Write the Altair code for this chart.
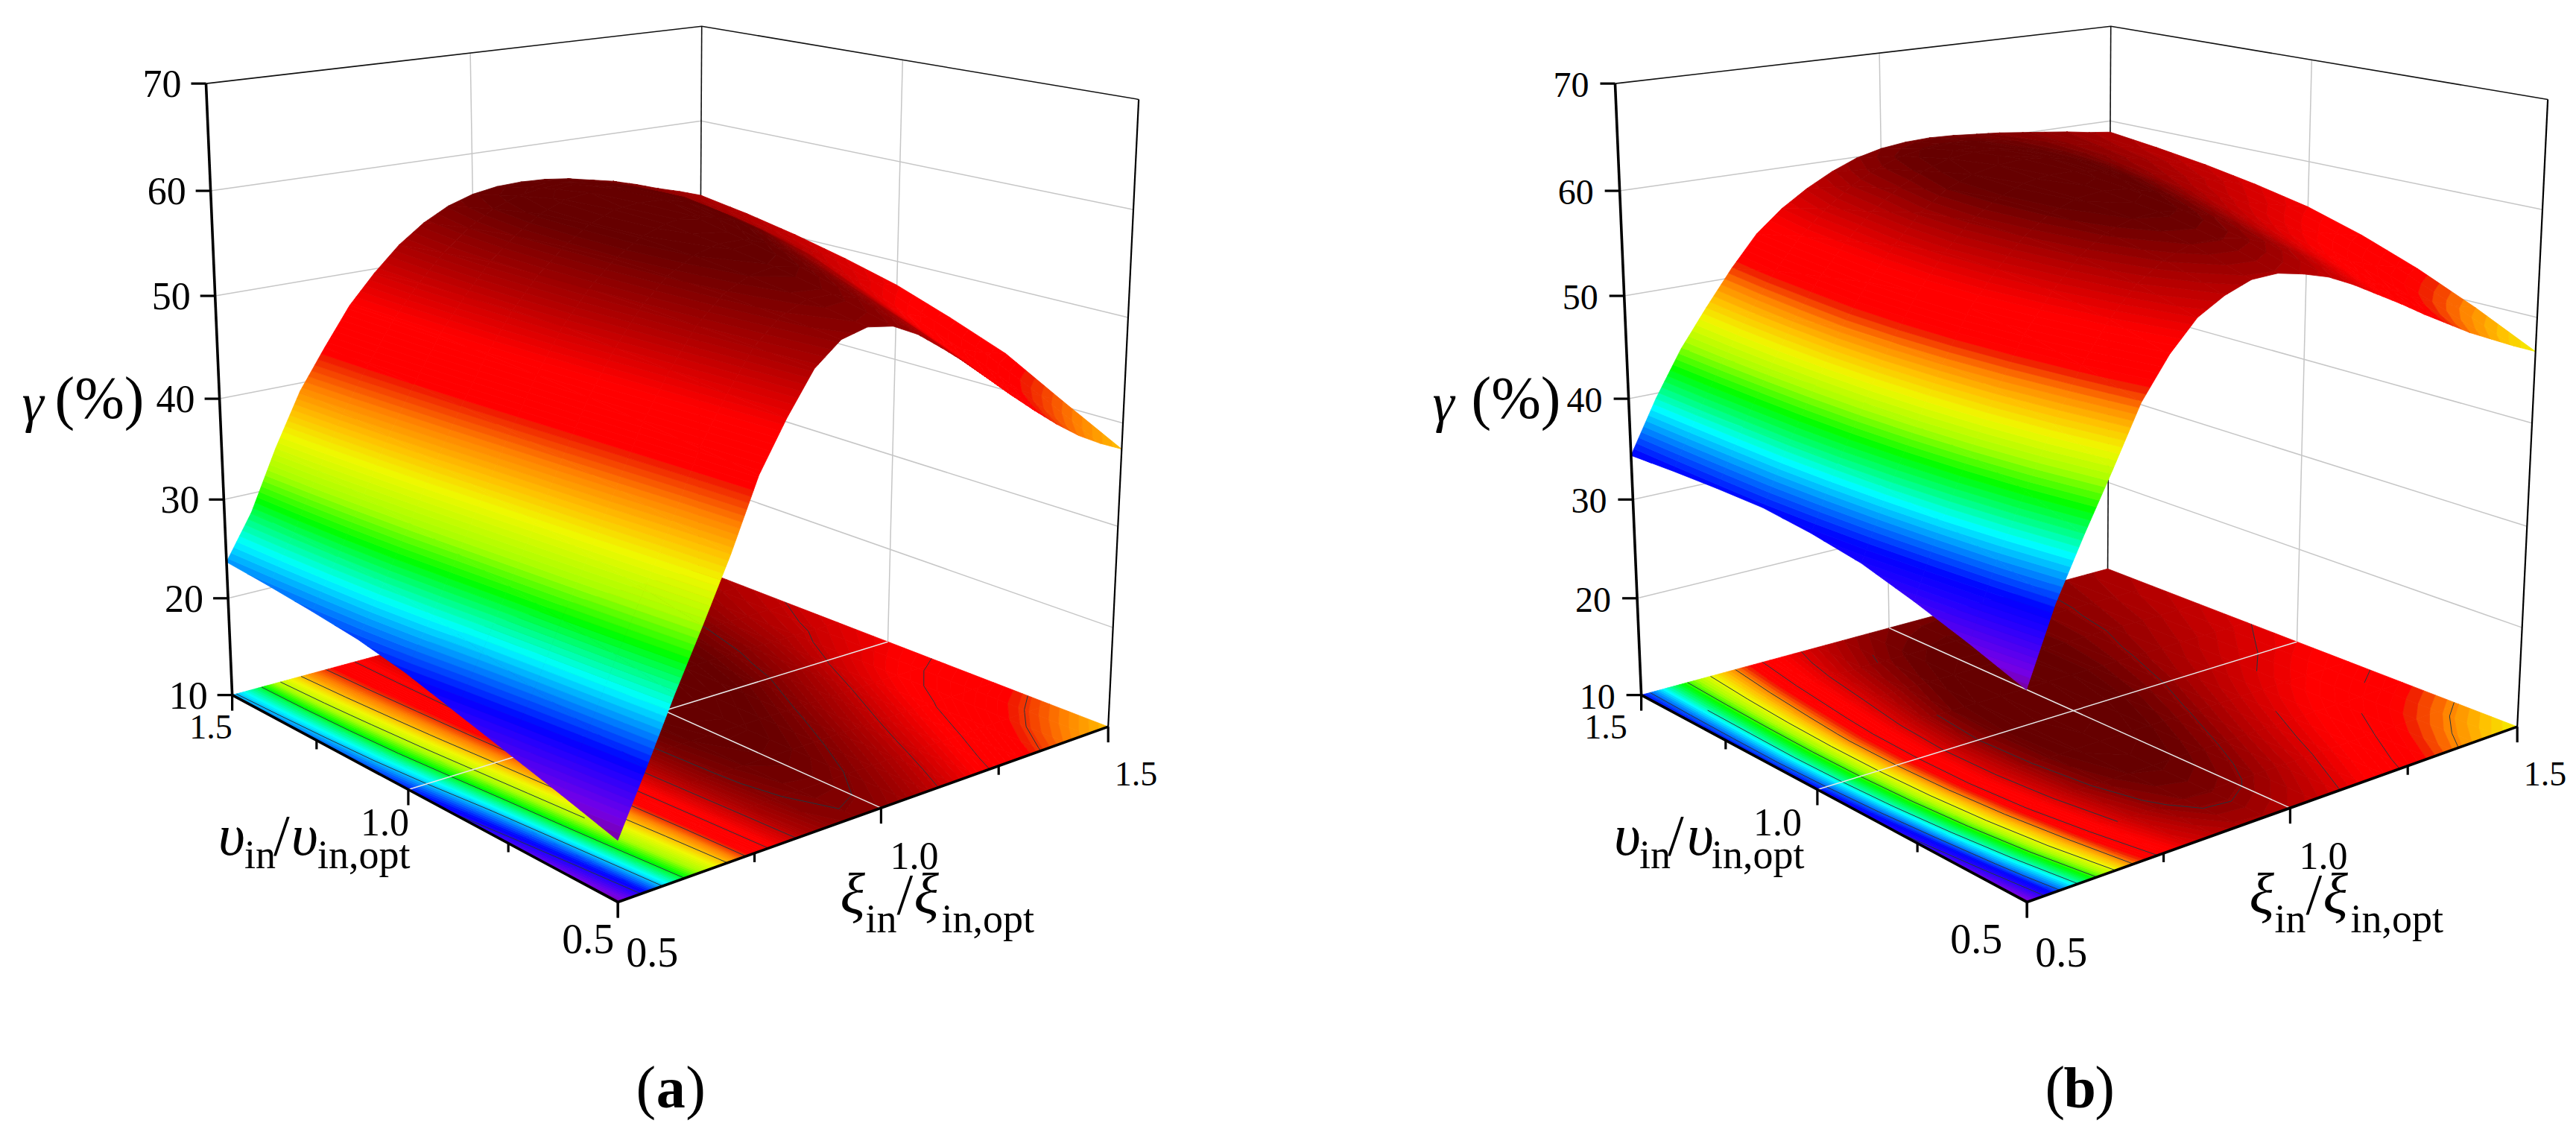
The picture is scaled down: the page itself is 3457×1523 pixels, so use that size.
import numpy as np
import pandas as pd
import altair as alt

alt.data_transformers.disable_max_rows()

# ---------- values ----------
XI = [0.5, 0.55, 0.6, 0.65, 0.7, 0.75, 0.8, 0.85, 0.9, 0.95, 1.0, 1.05, 1.1, 1.15, 1.2, 1.25, 1.3, 1.35, 1.4, 1.45, 1.5]
V = [0.5, 0.625, 0.75, 0.875, 1.0, 1.125, 1.25, 1.375, 1.5]
GAMMA_A = [
    [15.5, 21.0, 26.7, 32.0, 37.5, 43.7, 48.0, 51.7, 53.7, 54.3, 53.9, 52.7, 51.0, 49.2, 47.2, 45.2, 43.3, 41.5, 39.9, 38.6, 37.5],
    [17.0, 22.2, 27.9, 33.1, 38.5, 44.3, 48.5, 52.1, 54.3, 55.3, 55.3, 54.5, 53.1, 51.4, 49.5, 47.6, 45.8, 44.0, 42.6, 41.5, 40.5],
    [18.4, 23.4, 29.0, 34.2, 39.6, 44.9, 49.0, 52.5, 54.8, 56.0, 56.4, 56.0, 54.9, 53.4, 51.6, 49.8, 48.0, 46.3, 45.0, 44.2, 43.6],
    [19.8, 24.6, 30.0, 35.2, 40.5, 45.5, 49.5, 52.8, 55.1, 56.5, 57.2, 57.2, 56.4, 55.2, 53.6, 52.0, 50.2, 48.4, 47.0, 46.2, 45.7],
    [21.2, 25.9, 31.0, 36.2, 41.3, 46.0, 50.0, 53.0, 55.3, 56.9, 57.8, 58.2, 57.6, 56.8, 55.5, 53.9, 52.4, 50.5, 49.2, 48.3, 47.6],
    [22.2, 26.9, 32.0, 37.2, 42.0, 46.4, 50.1, 53.0, 55.2, 56.9, 57.9, 58.2, 58.1, 57.5, 56.5, 55.2, 53.8, 52.3, 50.9, 49.9, 49.0],
    [22.8, 27.5, 32.8, 38.0, 42.5, 46.7, 50.0, 52.9, 55.0, 56.7, 57.7, 58.0, 58.0, 57.6, 56.9, 56.0, 54.7, 53.2, 52.0, 51.0, 50.2],
    [23.3, 27.9, 33.5, 38.7, 42.9, 46.8, 49.9, 52.5, 54.5, 56.0, 56.9, 57.3, 57.4, 57.1, 56.6, 55.9, 55.0, 54.0, 53.0, 52.0, 51.2],
    [23.7, 28.1, 34.0, 39.2, 43.1, 46.8, 49.6, 52.0, 53.8, 55.1, 55.9, 56.3, 56.4, 56.3, 56.0, 55.5, 55.0, 54.3, 53.5, 52.8, 52.0],
]
GAMMA_B = [
    [28.6, 35.2, 40.4, 45.3, 50.4, 53.9, 56.5, 57.9, 58.8, 58.9, 58.4, 57.7, 56.6, 55.3, 54.0, 52.6, 51.3, 50.0, 48.9, 47.8, 46.8],
    [30.4, 37.0, 42.3, 47.4, 52.0, 55.4, 58.0, 59.6, 60.5, 60.6, 60.2, 59.4, 58.3, 57.0, 55.7, 54.4, 53.2, 52.0, 51.0, 50.2, 49.5],
    [32.0, 38.4, 43.7, 48.8, 53.2, 56.4, 59.0, 60.7, 61.5, 61.7, 61.4, 60.6, 59.6, 58.4, 57.2, 56.0, 54.9, 53.9, 53.1, 52.5, 51.9],
    [33.4, 39.4, 44.6, 49.6, 54.0, 57.0, 59.5, 61.2, 62.1, 62.4, 62.2, 61.6, 60.7, 59.7, 58.6, 57.5, 56.5, 55.7, 55.0, 54.4, 53.9],
    [34.2, 40.0, 45.0, 50.0, 54.0, 57.2, 59.7, 61.3, 62.3, 62.7, 62.7, 62.3, 61.6, 60.7, 59.8, 58.8, 58.0, 57.2, 56.6, 56.0, 55.5],
    [34.7, 40.2, 45.0, 49.9, 53.6, 56.6, 59.2, 61.0, 62.0, 62.5, 62.7, 62.5, 62.0, 61.3, 60.5, 59.7, 59.0, 58.4, 57.8, 57.2, 56.6],
    [34.7, 40.0, 44.8, 49.2, 52.8, 55.7, 58.1, 59.9, 61.2, 62.0, 62.3, 62.2, 61.9, 61.4, 60.9, 60.3, 59.7, 59.2, 58.6, 58.0, 57.5],
    [34.6, 39.8, 44.4, 48.4, 52.0, 54.9, 57.2, 59.0, 60.3, 61.2, 61.6, 61.7, 61.6, 61.3, 60.9, 60.5, 60.0, 59.6, 59.1, 58.6, 58.2],
    [34.4, 39.5, 43.9, 47.5, 50.9, 53.9, 56.0, 57.6, 58.9, 59.9, 60.5, 60.8, 60.9, 60.8, 60.6, 60.4, 60.1, 59.8, 59.5, 59.1, 58.8],
]
COLORS = ["#7a00a4", "#7400e8", "#2000ff", "#0000ff", "#0078ff", "#00ffff", "#00ff80", "#00ff00",
          "#a8ff00", "#f0f800", "#ffc000", "#ff8000", "#f02000", "#ff0000", "#ff0000", "#b00000", "#660000"]
STOPS_A = [15.5, 17, 20, 21, 23.2, 25.6, 27.5, 29.3, 32, 35.3, 37.4, 39.8, 42.2, 42.7, 47, 51.5, 56.5]
STOPS_B = [28.6, 29.8, 33, 34.6, 36.6, 38.8, 40.4, 42.2, 44.5, 46.6, 48.3, 49.9, 51.3, 51.8, 55, 58.5, 61.5]
CONTOURS_A = [20, 24.4, 28.8, 33.1, 37.4, 41.7, 46, 50.3, 54.6]
CONTOURS_B = [32.7, 36.1, 39.5, 42.9, 46.3, 49.7, 53.1, 56.5, 59.9]
Z_TICKS = [10, 20, 30, 40, 50, 60, 70]
MAJOR = [0.5, 1.0, 1.5]
MINOR = [0.75, 1.25]

# camera calibration: axis-box locations (xi, v, gamma) -> page location
CAL = [
    (0.5, 1.5, 10, 311.6, 932), (0.5, 1.5, 70, 277, 112.5), (0.5, 0.5, 10, 830, 1211),
    (1.5, 0.5, 10, 1487.5, 974), (1.5, 0.5, 70, 1528.6, 133), (1.5, 1.5, 70, 941.5, 35),
    (1.5, 1.5, 10, 938, 764), (0.5, 1.5, 40, 294, 535), (1.5, 0.5, 40, 1506, 568),
    (1.0, 0.5, 10, 1182, 1085), (0.5, 1.0, 10, 547.6, 1059), (1.0, 1.5, 70, 631, 71),
    (1.5, 1.0, 70, 1211.6, 80.7),
]
A, b = [], []
for X_, Y_, Z_, u, w in CAL:
    A.append([X_, Y_, Z_, 1, 0, 0, 0, 0, -u * X_, -u * Y_, -u * Z_]); b.append(u)
    A.append([0, 0, 0, 0, X_, Y_, Z_, 1, -w * X_, -w * Y_, -w * Z_]); b.append(w)
P = np.append(np.linalg.lstsq(np.array(A, float), np.array(b, float), rcond=None)[0], 1).reshape(3, 4)


def project(xi, v, z):
    h = P @ np.array([xi, v, z, 1.0])
    return h[0] / h[2], h[1] / h[2]


def hexmix(c1, c2, t):
    a = [int(c1[i:i + 2], 16) for i in (1, 3, 5)]
    d = [int(c2[i:i + 2], 16) for i in (1, 3, 5)]
    return "#%02x%02x%02x" % tuple(int(round(a[i] + (d[i] - a[i]) * t)) for i in range(3))


def colour(g, stops):
    if g <= stops[0]:
        return COLORS[0]
    for i in range(len(stops) - 1):
        if g <= stops[i + 1]:
            return hexmix(COLORS[i], COLORS[i + 1], (g - stops[i]) / (stops[i + 1] - stops[i]))
    return COLORS[-1]


def clip(poly, level, keep_above):
    out = []
    for i in range(len(poly)):
        p, q = poly[i], poly[(i + 1) % len(poly)]
        pin = p[2] >= level if keep_above else p[2] <= level
        qin = q[2] >= level if keep_above else q[2] <= level
        if pin:
            out.append(p)
        if pin != qin:
            t = (level - p[2]) / (q[2] - p[2])
            out.append((p[0] + (q[0] - p[0]) * t, p[1] + (q[1] - p[1]) * t, level))
    return out


STEP = 0.5
rows_floor, rows_surf, rows_cont = [], [], []
seg = {"wall": [], "floorgrid": [], "thin": [], "mid": [], "thick": [], "tick": []}
texts = []
counter = [0]


def add_poly(target, pts, col):
    counter[0] += 1
    for k, (x, y) in enumerate(pts):
        target.append({"x": x, "y": y, "id": counter[0], "o": k, "c": col})


def add_seg(name, pts):
    counter[0] += 1
    for k, (x, y) in enumerate(pts):
        seg[name].append({"x": x, "y": y, "id": counter[0], "o": k})


def add_text(x, y, t, size, align="left", style="normal", weight="normal"):
    texts.append({"x": x, "y": y, "t": t, "s": size, "a": align, "st": style, "w": weight})


def panel(G, stops, contours, dx, vshift, zoff, zsize, vt_off, gamma_off, name):
    G = np.array(G, float)

    def pr(a, c, z):
        x, y = project(a, c, z)
        return x + dx, y
    for z in Z_TICKS[1:-1]:
        add_seg("wall", [pr(0.5, 1.5, z), pr(1.5, 1.5, z)])
        add_seg("wall", [pr(1.5, 1.5, z), pr(1.5, 0.5, z)])
    add_seg("wall", [pr(1.0, 1.5, 10), pr(1.0, 1.5, 70)])
    add_seg("wall", [pr(1.5, 1.0, 10), pr(1.5, 1.0, 70)])
    add_seg("thin", [pr(0.5, 1.5, 70), pr(1.5, 1.5, 70), pr(1.5, 0.5, 70)])
    add_seg("thin", [pr(1.5, 1.5, 10), pr(1.5, 1.5, 70)])
    add_seg("floorgrid", [pr(1.0, 0.5, 10), pr(1.0, 1.5, 10)])
    add_seg("floorgrid", [pr(0.5, 1.0, 10), pr(1.5, 1.0, 10)])
    lo = np.floor(G.min() / STEP) * STEP
    hi = np.ceil(G.max() / STEP) * STEP
    levels = np.arange(lo, hi + STEP, STEP)
    for j in range(len(V) - 2, -1, -1):
        for i in range(len(XI) - 2, -1, -1):
            quad = [(XI[i], V[j], G[j, i]), (XI[i + 1], V[j], G[j, i + 1]),
                    (XI[i + 1], V[j + 1], G[j + 1, i + 1]), (XI[i], V[j + 1], G[j + 1, i])]
            zs = [q[2] for q in quad]
            for l0 in levels:
                l1 = l0 + STEP
                if l1 < min(zs) or l0 > max(zs):
                    continue
                part = clip(clip(quad, l0, True), l1, False)
                if len(part) < 3:
                    continue
                col = colour(l0 + STEP / 2, stops)
                add_poly(rows_floor, [pr(a, c, 10) for a, c, _ in part], col)
                add_poly(rows_surf, [pr(a, c, z) for a, c, z in part], col)
            for lev in contours:
                cross = []
                for k in range(4):
                    p, q = quad[k], quad[(k + 1) % 4]
                    if (p[2] - lev) * (q[2] - lev) < 0:
                        t = (lev - p[2]) / (q[2] - p[2])
                        cross.append(pr(p[0] + (q[0] - p[0]) * t, p[1] + (q[1] - p[1]) * t, 10))
                for k in range(0, len(cross) - 1, 2):
                    counter[0] += 1
                    for o, (x, y) in enumerate(cross[k:k + 2]):
                        rows_cont.append({"x": x, "y": y, "id": counter[0], "o": o})
    add_seg("thick", [pr(0.5, 1.5, 10), pr(0.5, 1.5, 70)])
    add_seg("thick", [pr(0.5, 1.5, 10), pr(0.5, 0.5, 10), pr(1.5, 0.5, 10)])
    add_seg("mid", [pr(1.5, 0.5, 10), pr(1.5, 0.5, 70)])
    for z in Z_TICKS:
        x, y = pr(0.5, 1.5, z)
        add_seg("tick", [(x, y), (x - 20, y)])
        add_text(x + zoff, y + 18, str(z), zsize, "right")
    for val, ln in [(m, 21) for m in MAJOR] + [(m, 12) for m in MINOR]:
        x, y = pr(0.5, val, 10)
        add_seg("tick", [(x, y), (x, y + ln)])
        x, y = pr(val, 0.5, 10)
        add_seg("tick", [(x, y), (x, y + ln)])
    for val, (ox, oy), s in zip(MAJOR, vt_off, (56, 52, 46)):
        x, y = pr(0.5, val, 10)
        add_text(x + ox, y + oy, f"{val:.1f}", s, "right")
    for val, (ox, oy), s in zip(MAJOR, [(11, 87), (12, 82), (8.5, 79)], (56, 52, 46)):
        x, y = pr(val, 0.5, 10)
        add_text(x + ox, y + oy, f"{val:.1f}", s, "left")
    x, y = pr(1.0, 0.5, 10)
    add_text(x - 55, y + 142, "\u03be", 78, style="italic")
    add_text(x - 21, y + 167, "in", 54)
    add_text(x + 21, y + 142, "/", 78)
    add_text(x + 44, y + 142, "\u03be", 78, style="italic")
    add_text(x + 81, y + 167, "in,opt", 54)
    x, y = pr(0.5, 1.0, 10)
    add_text(x - 255 + vshift[0], y + 88, "\u03c5", 78, style="italic")
    add_text(x - 220 + vshift[1], y + 106, "in", 54)
    add_text(x - 181 + vshift[2], y + 88, "/", 78)
    add_text(x - 157 + vshift[3], y + 88, "\u03c5", 78, style="italic")
    add_text(x - 122 + vshift[4], y + 106, "in,opt", 54)
    x, y = pr(0.5, 1.5, 40)
    add_text(x - 265 + gamma_off[0], y + 30, "\u03b3", 74, style="italic")
    add_text(x - 221 + gamma_off[1], y + 26, "(%)", 80)
    x, y = pr(0.5, 0.5, 10)
    add_text(x + 71, y + 276, name, 78, "center", weight="bold")
    add_text(x + 71 - 20, y + 276, "(", 80, "right")
    add_text(x + 71 + 20, y + 276, ")", 80, "left")


panel(GAMMA_A, STOPS_A, CONTOURS_A, 0, (0, 0, 0, 0, 0), -33, 52,
      [(-5, 69), (1, 62), (0, 58)], (0, 0), "a")
panel(GAMMA_B, STOPS_B, CONTOURS_B, 1891, (-18, -19, -20, -18, -20), -35, 48,
      [(-33, 69), (-21, 62), (-19, 58)], (2, 10), "b")

X = alt.X("x:Q", scale=alt.Scale(domain=[8, 3449], nice=False, zero=False), axis=None)
Y = alt.Y("y:Q", scale=alt.Scale(domain=[8, 1515], nice=False, zero=False, reverse=True), axis=None)


def polys(rows):
    return alt.Chart(pd.DataFrame(rows)).mark_line(interpolate="linear-closed", strokeWidth=0.8).encode(
        x=X, y=Y, detail="id:N", order="o:Q",
        stroke=alt.Stroke("c:N", scale=None), fill=alt.Fill("c:N", scale=None))


def lines(rows, col, w):
    return alt.Chart(pd.DataFrame(rows)).mark_line(color=col, strokeWidth=w).encode(
        x=X, y=Y, detail="id:N", order="o:Q")


layers = [
    lines(seg["wall"], "#c6c6c6", 1.5),
    lines(seg["thin"], "#111111", 1.6),
    polys(rows_floor),
    lines(rows_cont, "#24363f", 1.0),
    lines(seg["floorgrid"], "#e8e8e8", 1.5),
    polys(rows_surf),
    lines(seg["mid"], "#000000", 2.2),
    lines(seg["thick"], "#000000", 3.6),
    lines(seg["tick"], "#000000", 3.2),
]
tdf = pd.DataFrame(texts)
for (a, st, w), g in tdf.groupby(["a", "st", "w"]):
    layers.append(alt.Chart(g).mark_text(align=a, baseline="alphabetic", font="Liberation Serif",
                                         fontStyle=st, fontWeight=w, color="black").encode(
        x=X, y=Y, text="t:N", size=alt.Size("s:Q", scale=None)))

chart = alt.layer(*layers).properties(
    width=3441, height=1507, padding=0, autosize=alt.AutoSizeParams(type="none")
).configure_view(stroke=None)
chart.save("out.html", embed_options={"renderer": "svg", "actions": False})
